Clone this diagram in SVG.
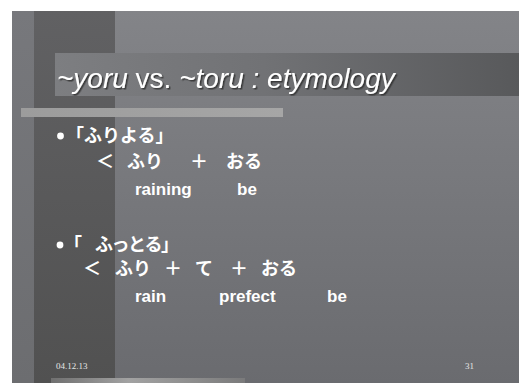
<svg xmlns="http://www.w3.org/2000/svg" width="519" height="383" viewBox="0 0 519 383">
  <defs>
    <linearGradient id="bg" x1="0" y1="0" x2="0" y2="1">
      <stop offset="0" stop-color="#838488"/>
      <stop offset="1" stop-color="#6a6b6f"/>
    </linearGradient>
    <linearGradient id="strip" x1="0" y1="0" x2="0" y2="1">
      <stop offset="0" stop-color="#77787c"/>
      <stop offset="1" stop-color="#6c6d70"/>
    </linearGradient>
    <linearGradient id="dark" x1="0" y1="0" x2="0" y2="1">
      <stop offset="0" stop-color="#616163"/>
      <stop offset="1" stop-color="#515151"/>
    </linearGradient>
    <linearGradient id="titleband" x1="0" y1="0" x2="1" y2="0">
      <stop offset="0" stop-color="#7d7e81"/>
      <stop offset="0.45" stop-color="#717275"/>
      <stop offset="1" stop-color="#58595b"/>
    </linearGradient>
    <linearGradient id="hbar" x1="0" y1="0" x2="1" y2="0">
      <stop offset="0" stop-color="#9c9c9c"/>
      <stop offset="1" stop-color="#a6a6a6"/>
    </linearGradient>
    <linearGradient id="bbar" x1="0" y1="0" x2="1" y2="0">
      <stop offset="0" stop-color="#707070"/>
      <stop offset="0.4" stop-color="#a2a2a2"/>
      <stop offset="0.75" stop-color="#8c8c8c"/>
      <stop offset="1" stop-color="#7a7a7b"/>
    </linearGradient>
    <filter id="shadow" x="-5%" y="-20%" width="110%" height="150%">
      <feDropShadow dx="1.5" dy="1.5" stdDeviation="0.6" flood-color="#2a2a2a" flood-opacity="0.8"/>
    </filter>
    <style>
      .title { font-family: "Liberation Sans", Arial, sans-serif; font-size: 28px; font-style: italic; fill: #ffffff; }
      .jp { font-family: "Noto Sans CJK JP", "Noto Sans CJK SC", sans-serif; font-size: 18px; font-weight: 700; fill: #ffffff; }
      .en { font-family: "Liberation Sans", Arial, sans-serif; font-size: 17px; font-weight: 700; fill: #ffffff; }
      .foot { font-family: "Liberation Serif", "Times New Roman", serif; font-size: 9px; fill: #e6e6e6; }
    </style>
  </defs>

  <rect x="0" y="0" width="519" height="383" fill="#ffffff"/>
  <rect x="12" y="11" width="507" height="372" fill="url(#bg)"/>
  <rect x="12" y="11" width="22" height="372" fill="url(#strip)"/>
  <rect x="34" y="11" width="81" height="372" fill="url(#dark)"/>
  <rect x="55" y="53" width="464" height="43" fill="url(#titleband)"/>
  <rect x="21" y="108" width="262" height="9" fill="url(#hbar)"/>
  <rect x="51" y="378" width="194" height="5" fill="url(#bbar)"/>

  <g id="title">
    <text class="title" x="57" y="88" filter="url(#shadow)">~yoru <tspan font-style="normal">vs.</tspan> ~toru : etymology</text>
  </g>

  <g id="item1">
    <circle cx="60.5" cy="136" r="3.4" fill="#ffffff"/>
    <text class="jp" x="66" y="142">「ふりよる」</text>
    <text class="jp" y="168"><tspan x="96">＜</tspan><tspan x="127">ふり</tspan><tspan x="190">＋</tspan><tspan x="226">おる</tspan></text>
    <text class="en" y="195"><tspan x="135">raining</tspan><tspan x="237">be</tspan></text>
  </g>

  <g id="item2">
    <circle cx="60" cy="245" r="3.4" fill="#ffffff"/>
    <text class="jp" y="251"><tspan x="64">「</tspan><tspan x="95" letter-spacing="-1.5">ふっとる</tspan><tspan x="161">」</tspan></text>
    <text class="jp" y="275"><tspan x="83">＜</tspan><tspan x="115">ふり</tspan><tspan x="164">＋</tspan><tspan x="195">て</tspan><tspan x="230">＋</tspan><tspan x="261">おる</tspan></text>
    <text class="en" y="302"><tspan x="135">rain</tspan><tspan x="219">prefect</tspan><tspan x="327">be</tspan></text>
  </g>

  <g id="footer">
    <text class="foot" x="56" y="369">04.12.13</text>
    <text class="foot" x="465" y="369">31</text>
  </g>
</svg>
